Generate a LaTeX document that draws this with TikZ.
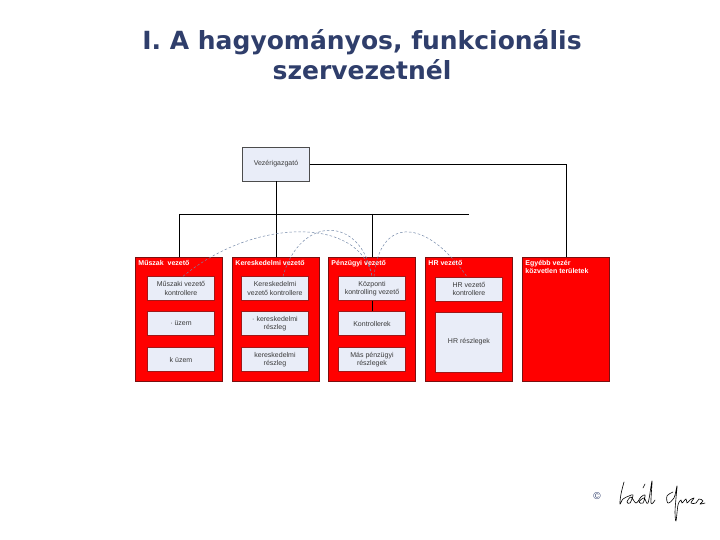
\documentclass[tikz,border=0pt]{standalone}
\usepackage{fontspec}
\setmainfont{Liberation Sans}
\newfontfamily\titlefont{DejaVu Sans}
\usetikzlibrary{positioning}
\definecolor{titleblue}{HTML}{2F3E6B}
\definecolor{unitred}{HTML}{FF0000}
\definecolor{unitedge}{HTML}{7A1010}
\definecolor{cellfill}{HTML}{E9EDF8}
\definecolor{celledge}{HTML}{A01818}
\definecolor{linkgray}{HTML}{7388A8}
\definecolor{textgray}{HTML}{3A3A3A}

\begin{document}
\begin{tikzpicture}[x=1pt, y=-1pt,
  unit/.style={fill=unitred, draw=unitedge, line width=0.5pt, inner sep=0pt,
               minimum width=87pt, minimum height=124pt},
  unitlabel/.style={font=\bfseries\fontsize{7}{8.4}\selectfont, text=white,
                    align=left, inner sep=0pt},
  cell/.style={fill=cellfill, draw=celledge, line width=0.4pt, inner sep=1pt,
               align=center, text=textgray, font=\fontsize{7}{8.4}\selectfont,
               minimum width=67pt, minimum height=24pt},
  boss/.style={fill=cellfill, draw=black!70, line width=0.5pt, text=textgray,
               font=\fontsize{7}{8.4}\selectfont, minimum width=67pt, minimum height=34pt},
  wire/.style={black, line width=0.7pt},
  link/.style={linkgray, line width=0.5pt, dash pattern=on 2.5pt off 2pt},
]
\useasboundingbox (0,0) rectangle (720,540);

% ── Title ───────────────────────────────────────────────────────────────
\node[font=\titlefont\bfseries\fontsize{25}{30}\selectfont, text=titleblue,
      align=center, inner sep=0pt, anchor=north] (title) at (362,29)
      {I. A hagyományos, funkcionális\\szervezetnél};

% ── Top box ─────────────────────────────────────────────────────────────
\node[boss] (ceo) at (276,164) {Vezérigazgató};

% ── Red units ───────────────────────────────────────────────────────────
\node[unit] (msz) at (179,319.5) {};
\node[unit] (ker) at (276,319.5) {};
\node[unit] (pen) at (372,319.5) {};
\node[unit] (hr)  at (469,319.5) {};
\node[unit] (egy) at (566,319.5) {};

\node[unitlabel, below right=3pt and 3pt of msz.north west] (msz-t) {Műszak\ \ vezető};
\node[unitlabel, below right=3pt and 3pt of ker.north west] (ker-t) {Kereskedelmi vezető};
\node[unitlabel, below right=3pt and 3pt of pen.north west] (pen-t) {Pénzügyi vezető};
\node[unitlabel, below right=3pt and 3pt of hr.north west]  (hr-t)  {HR vezető};
\node[unitlabel, below right=3pt and 3pt of egy.north west] (egy-t) {Egyébb vezér\\közvetlen területek};

% ── Cells ───────────────────────────────────────────────────────────────
\node[cell] (msz1) at (181,288.5) {Műszaki vezető\\kontrollere};
\node[cell] (msz2) at (181,323.5) {· üzem};
\node[cell] (msz3) at (181,359.5) {k üzem};

\node[cell] (ker1) at (275,288.5) {Kereskedelmi\\vezető kontrollere};
\node[cell] (ker2) at (275,323.5) {· kereskedelmi\\részleg};
\node[cell] (ker3) at (275,359.5) {kereskedelmi\\részleg};

\node[cell] (pen1) at (372,288.5) {Központi\\kontrolling vezető};
\node[cell] (pen2) at (372,323.5) {Kontrollerek};
\node[cell] (pen3) at (372,359.5) {Más pénzügyi\\részlegek};

\node[cell] (hr1) at (469,289) {HR vezető\\kontrollere};
\node[cell, minimum height=60pt] (hr2) at (469,342) {HR részlegek};

% ── Lines ───────────────────────────────────────────────────────────────
\coordinate (busL) at (179,214);
\coordinate (busR) at (469,214);
\draw[wire] (ceo.east) -| (egy.north);
\draw[wire] (ceo.south) -- (ker.north);
\draw[wire] (busL) -- (busR);
\draw[wire] (busL) -- (msz.north);
\draw[wire] (pen.north |- busL) -- (pen.north);
\draw[wire, line width=0.5pt] (pen1) -- (pen2);

% ── Dashed links ────────────────────────────────────────────────────────
\draw[link] ([xshift=2pt]msz1.north) .. controls (255,217) and (360,217) .. (pen1.north);
\draw[link] ([xshift=8pt]ker1.north) .. controls (300,215) and (361,215) .. (pen1.north);
\draw[link] ([xshift=2pt]pen1.north) .. controls (380,217) and (425,217) .. ([xshift=-2pt]hr1.north);

% ── Signature ───────────────────────────────────────────────────────────
\node[font=\fontsize{10}{12}\selectfont, text=titleblue] (copy) at (597,496) {©};
\draw[line width=0.6pt, line cap=round, line join=round]
  plot[smooth, tension=0.6] coordinates {(624,482) (621,494) (620,504) (623,499) (629,496) (633,495)
     (630,503) (627,502) (631,497) (636,503) (641,497) (645,495) (643,503) (639,502)
     (644,498) (648,503) (652,481) (651,503) (655,500)};
\draw[line width=0.6pt, line cap=round] (643,488) -- (645,484);
\draw[line width=0.6pt, line cap=round, line join=round]
  plot[smooth, tension=0.6] coordinates {(673,492) (667,496) (668,503) (674,498) (677,486)
     (676,498) (675,512) (676,521) (678,505) (681,500) (682,503) (686,499) (687,503)
     (690,500) (694,498) (691,503) (696,503) (699,499) (703,501) (700,504) (705,503)};
\end{tikzpicture}
\end{document}
